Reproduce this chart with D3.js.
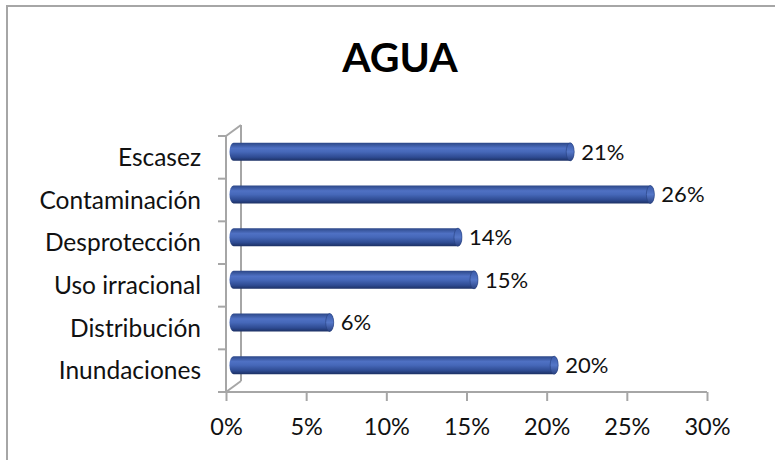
<!DOCTYPE html>
<html>
<head>
<meta charset="utf-8">
<script src="https://cdn.jsdelivr.net/npm/d3@7"></script>
<style>
  html, body { margin: 0; padding: 0; background: #fff; }
  svg { display: block; font-family: Lato, "Open Sans", sans-serif; }
</style>
</head>
<body>
<svg id="chart" width="775" height="460"></svg>
<script>
// Problems reported for water (AGUA), share of answers
const categories = ["Escasez", "Contaminación", "Desprotección", "Uso irracional", "Distribución", "Inundaciones"];
const values = [0.21, 0.26, 0.14, 0.15, 0.06, 0.20];
const xTicks = [0, 0.05, 0.10, 0.15, 0.20, 0.25, 0.30];
const title = "AGUA";

(function draw() {
  const svg = d3.select("#chart");
  const W = 775, H = 460;

  // frame of the chart area
  svg.append("path")
    .attr("d", `M7,${H} L7,6 L${W},6`)
    .attr("fill", "none").attr("stroke", "#a6a6a6").attr("stroke-width", 2);

  // title
  svg.append("text")
    .attr("x", 400).attr("y", 72)
    .attr("text-anchor", "middle")
    .attr("font-size", 41).attr("font-weight", 700)
    .attr("fill", "#000")
    .text(title);

  // front plane of the plot and 3-D depth offset
  const pLeft = 226, pRight = 707, pTop = 136, pBottom = 392;
  const dx = 15, dy = -11;

  const x = d3.scaleLinear().domain([0, 0.30]).range([pLeft, pRight]);
  const y = d3.scaleBand().domain(categories).range([pTop, pBottom]);

  const axisColor = "#a6a6a6";

  // wall and floor edges
  const g = svg.append("g").attr("fill", "none").attr("stroke", axisColor).attr("stroke-width", 2);
  g.append("line").attr("x1", pLeft + dx).attr("y1", pTop + dy).attr("x2", pLeft + dx).attr("y2", pBottom + dy);
  g.append("line").attr("x1", pLeft).attr("y1", pTop).attr("x2", pLeft + dx).attr("y2", pTop + dy);
  g.append("line").attr("x1", pLeft).attr("y1", pBottom).attr("x2", pLeft + dx).attr("y2", pBottom + dy);

  // category axis (front)
  const yAxis = svg.append("g").attr("transform", `translate(${pLeft},0)`)
    .call(d3.axisLeft(y).tickSize(0).tickPadding(25));
  yAxis.select(".domain").attr("stroke", axisColor).attr("stroke-width", 2)
    .attr("d", `M0,${pTop}V${pBottom}`);
  yAxis.selectAll(".tick text").attr("font-size", 24.5).attr("fill", "#111")
    .attr("font-family", "Lato, sans-serif").attr("dy", "0.36em");
  // tick marks on band boundaries
  const bounds = categories.map(c => y(c)).concat([pBottom]);
  yAxis.selectAll("line.bound").data(bounds).join("line").attr("class", "bound")
    .attr("x1", -8).attr("x2", 0).attr("y1", d => d).attr("y2", d => d)
    .attr("stroke", axisColor).attr("stroke-width", 2);

  // value axis (front floor edge)
  const xAxis = svg.append("g").attr("transform", `translate(0,${pBottom})`)
    .call(d3.axisBottom(x).tickValues(xTicks).tickFormat(d3.format(".0%")).tickSize(9).tickPadding(17));
  xAxis.select(".domain").attr("stroke", axisColor).attr("stroke-width", 2)
    .attr("d", `M${pLeft},0H${pRight}`);
  xAxis.selectAll(".tick line").attr("stroke", axisColor).attr("stroke-width", 2);
  xAxis.selectAll(".tick text").attr("font-size", 23.5).attr("fill", "#111")
    .attr("font-family", "Lato, sans-serif");

  // cylinder shading
  const defs = svg.append("defs");
  const grad = defs.append("linearGradient").attr("id", "cyl").attr("x1", 0).attr("y1", 0).attr("x2", 0).attr("y2", 1);
  [[0, "#2c4787"], [0.3, "#4f71c4"], [0.5, "#4668b9"], [0.8, "#2e4b92"], [1, "#1c3064"]]
    .forEach(([o, c]) => grad.append("stop").attr("offset", o).attr("stop-color", c));
  const capGrad = defs.append("linearGradient").attr("id", "cap").attr("x1", 0).attr("y1", 0).attr("x2", 0).attr("y2", 1);
  [[0, "#3a5aa8"], [0.5, "#5577c8"], [1, "#2a4282"]]
    .forEach(([o, c]) => capGrad.append("stop").attr("offset", o).attr("stop-color", c));

  const barH = 18, rx = 4;
  const bars = svg.append("g");
  categories.forEach((c, i) => {
    const cy = y(c) + y.bandwidth() / 2 + dy / 2;
    const x0 = x(0) + dx / 2, x1 = x(values[i]) + dx / 2;
    const gb = bars.append("g");
    // body with rounded near end
    gb.append("path")
      .attr("d", `M${x0},${cy - barH / 2} L${x1},${cy - barH / 2} A${rx},${barH / 2} 0 0 1 ${x1},${cy + barH / 2} L${x0},${cy + barH / 2} A${rx},${barH / 2} 0 0 1 ${x0},${cy - barH / 2} Z`)
      .attr("fill", "url(#cyl)");
    // visible end cap
    gb.append("ellipse")
      .attr("cx", x1).attr("cy", cy).attr("rx", rx).attr("ry", barH / 2)
      .attr("fill", "url(#cap)").attr("stroke", "#27407e").attr("stroke-width", 0.6);
    // value label
    svg.append("text")
      .attr("x", x1 + 11).attr("y", cy).attr("dy", "0.36em")
      .attr("font-size", 22).attr("fill", "#111")
      .text(d3.format(".0%")(values[i]));
  });
})();
</script>
</body>
</html>
